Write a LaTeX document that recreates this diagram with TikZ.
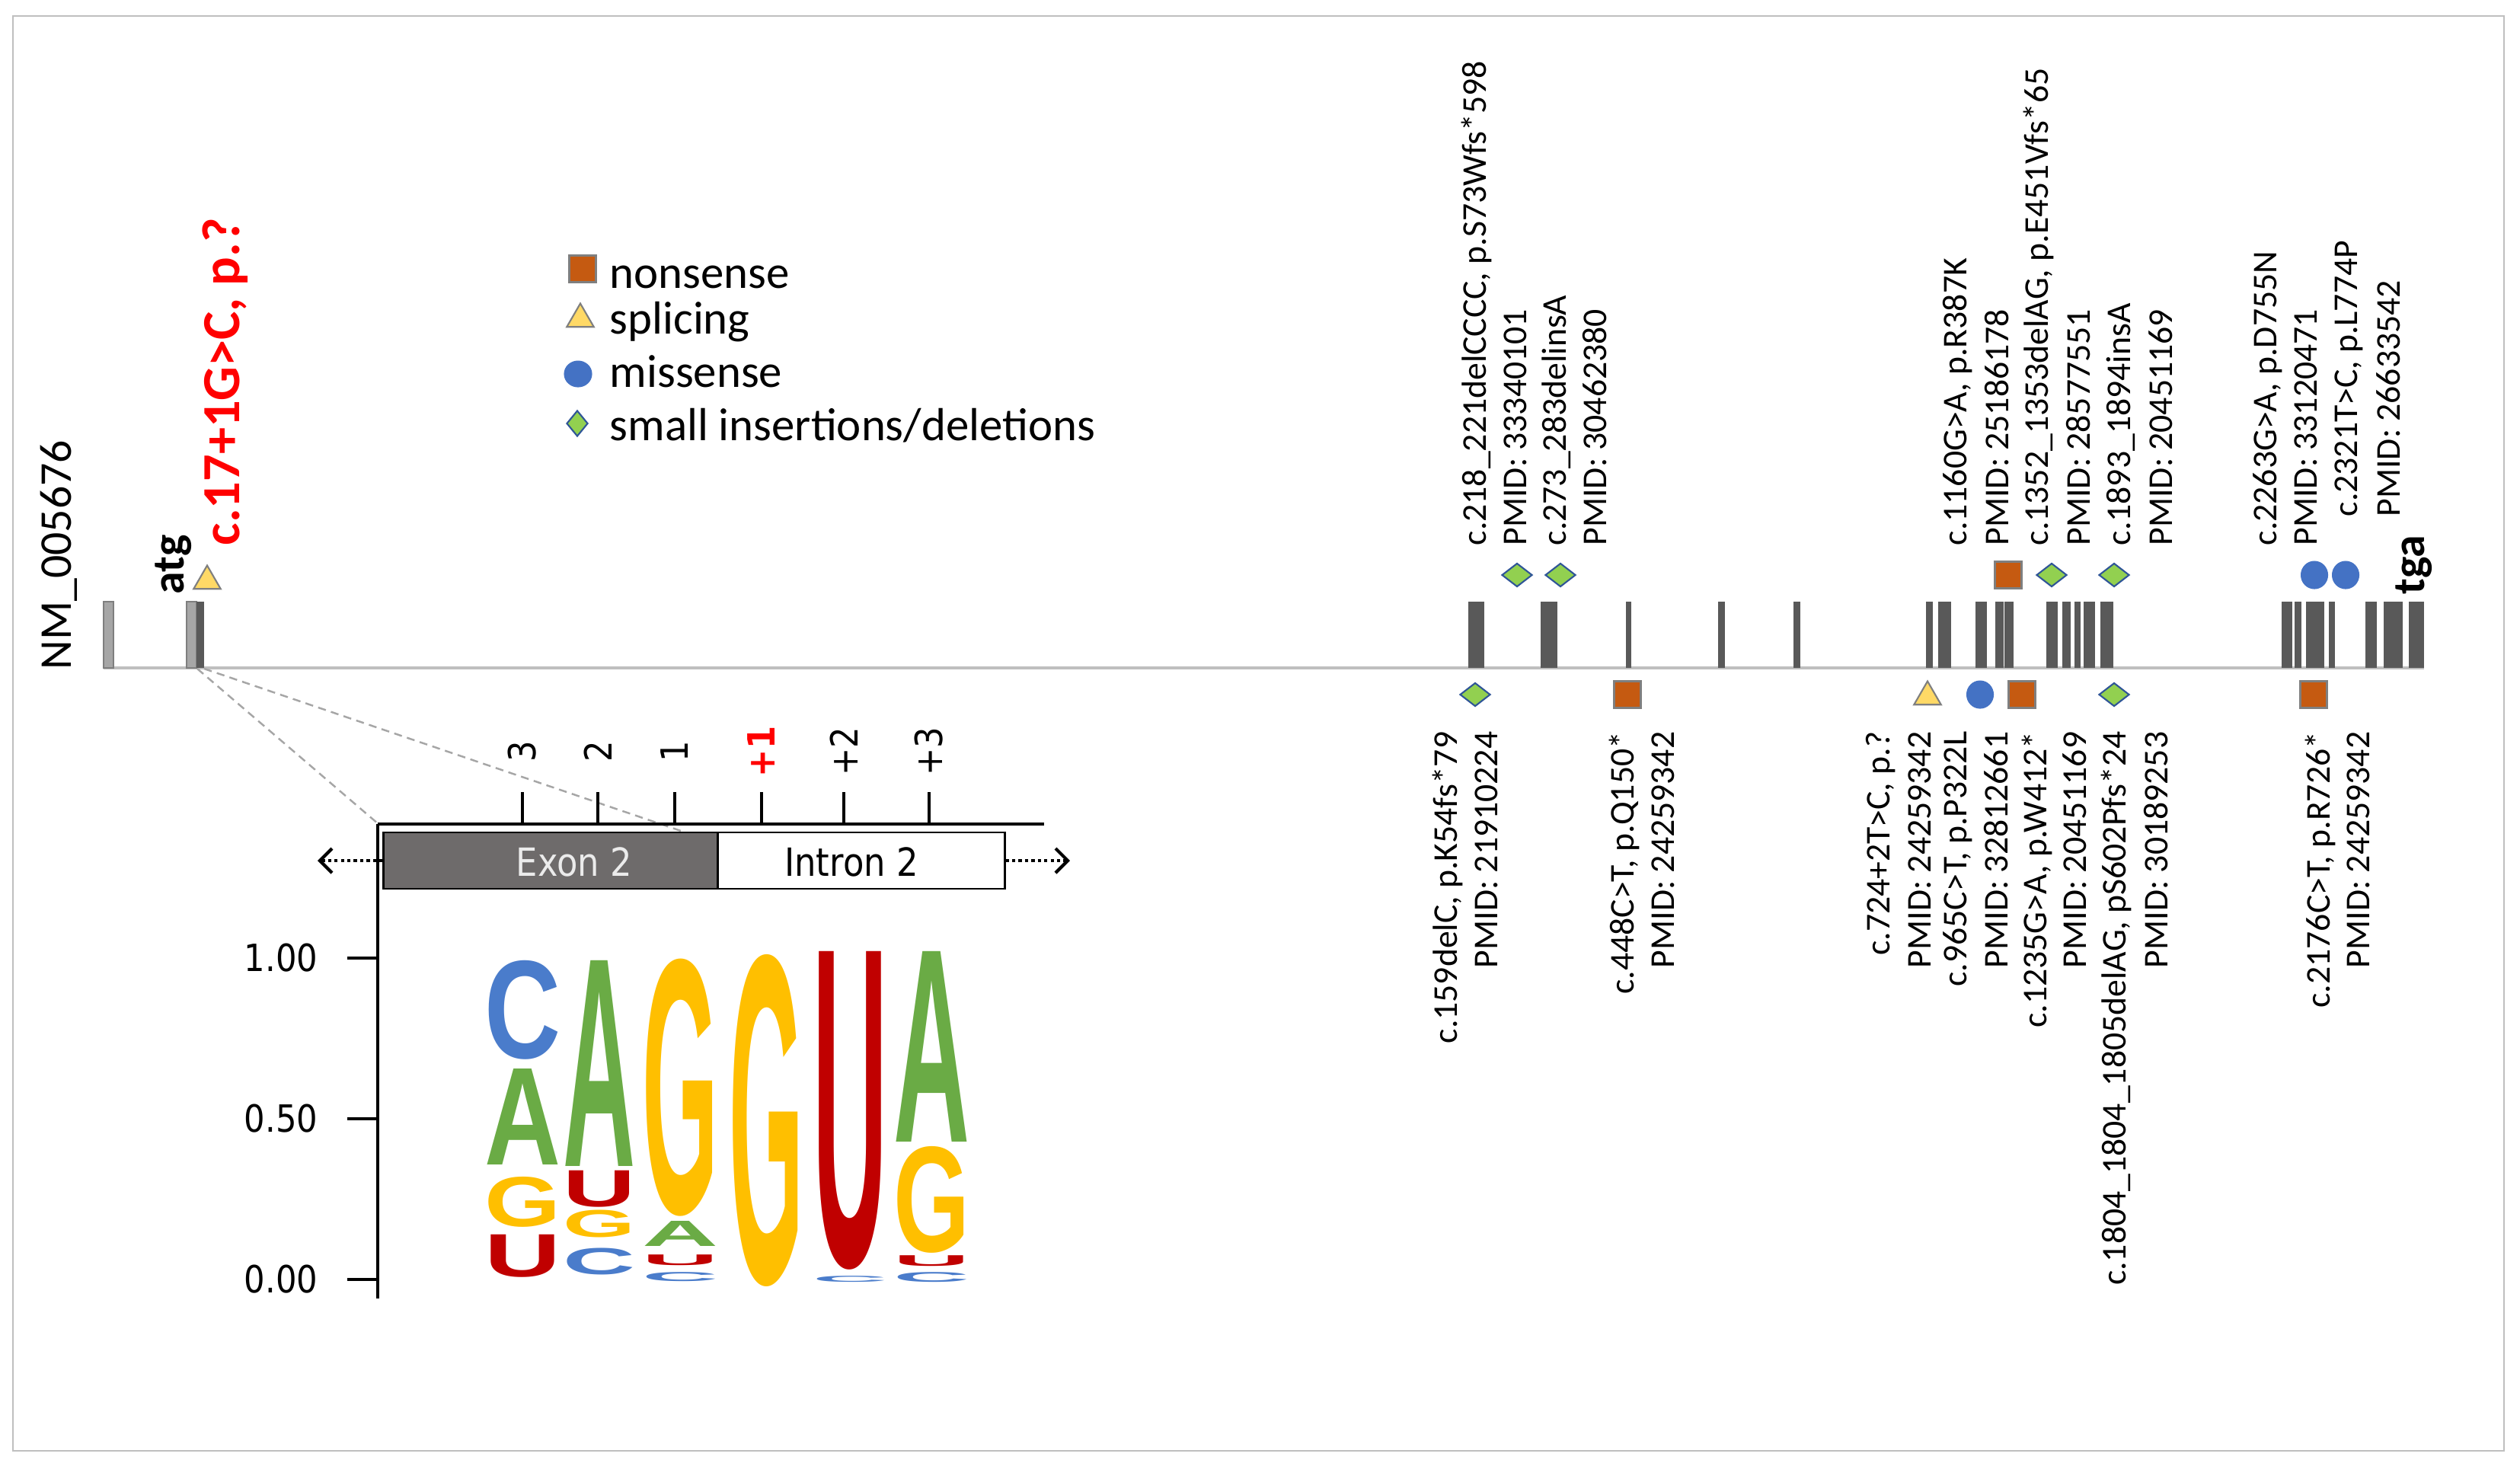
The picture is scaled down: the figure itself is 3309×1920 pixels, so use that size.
\documentclass[tikz,border=0pt]{standalone}
\usepackage{fontspec}
\usepackage{graphicx}
\setmainfont{Carlito}
\newfontfamily\logofont{Liberation Sans}
\newfontfamily\insetfont[FakeStretch=0.88]{DejaVu Sans}
\usetikzlibrary{shapes.geometric,arrows.meta}
\newlength\pxu \setlength\pxu{0.01cm}
\definecolor{exdark}{HTML}{595959}
\definecolor{exlight}{HTML}{A6A6A6}
\definecolor{linegray}{HTML}{BFBFBF}
\definecolor{nsorange}{HTML}{C55A11}
\definecolor{mkgray}{HTML}{7F7F7F}
\definecolor{spyellow}{HTML}{FFD966}
\definecolor{msblue}{HTML}{4472C4}
\definecolor{idgreen}{HTML}{92D050}
\definecolor{idblue}{HTML}{2F5597}
\definecolor{lgblue}{HTML}{4A7CCB}
\definecolor{lggreen}{HTML}{6AAB45}
\definecolor{lgyellow}{HTML}{FFBF00}
\definecolor{lgred}{HTML}{C00000}
\definecolor{boxgray}{HTML}{6E6B6B}
\definecolor{dashgray}{HTML}{A6A6A6}
\newcommand\LogoL[7]{\node[inner sep=0pt, anchor=south, text=#2] (#1) at (#3,#5) {\resizebox*{#4\pxu}{#6\pxu}{\logofont\bfseries #7}};}
\tikzset{
  lbl/.style={rotate=90, inner sep=0pt, font=\fontsize{13}{15}\selectfont},
  exon/.style={fill=exdark, draw=none},
  exonl/.style={fill=exlight, draw=mkgray, line width=0.4pt},
  msq/.style={rectangle, minimum width=0.35cm, minimum height=0.35cm, inner sep=0pt, fill=nsorange, draw=mkgray, line width=0.6pt},
  mtri/.style={regular polygon, regular polygon sides=3, minimum size=0.41cm, inner sep=0pt, fill=spyellow, draw=mkgray, line width=0.6pt},
  mcirc/.style={ellipse, minimum width=0.35cm, minimum height=0.36cm, inner sep=0pt, fill=msblue, draw=msblue, line width=0.3pt},
  mdia/.style={diamond, minimum width=0.40cm, minimum height=0.31cm, inner sep=0pt, fill=idgreen, draw=idblue, line width=0.6pt},
  leg/.style={anchor=base west, inner sep=0pt, font=\fontsize{17.3}{20}\selectfont},
  ticklbl/.style={rotate=90, inner sep=0pt, font=\insetfont\fontsize{14}{16}\selectfont},
  ylbl/.style={anchor=east, inner sep=0pt, font=\insetfont\fontsize{14}{16}\selectfont},
  dotarrow/.style={line width=1.1pt, dash pattern=on 1.2pt off 1.2pt, -{Straight Barb[length=1.6mm, width=3.2mm, line width=1.2pt]}},
}
\begin{document}
\begin{tikzpicture}[x=0.01cm, y=-0.01cm]
\useasboundingbox (0,0) rectangle (3309,1920);
\draw[linegray, line width=0.6pt] (17,21) rectangle (3288,1905);

% transcript line and exons
\draw[linegray, line width=0.9pt] (136,877) -- (3183,877);
\draw[exonl] (136,790) rectangle (149,877);
\draw[exonl] (245,790) rectangle (258,877);
\fill[exdark] (258,790) rectangle (268,877);
\foreach \a/\b in {1928/1949, 2023/2045, 2135/2142, 2256/2265, 2355/2364, 2529/2538, 2545/2562, 2594/2609, 2620/2631, 2632/2644, 2687/2702, 2708/2719, 2724/2732, 2736/2751, 2758/2775, 2996/3010, 3013/3022, 3028/3052, 3058/3066, 3106/3121, 3130/3155, 3163/3183}
  \fill[exdark] (\a,790) rectangle (\b,877);

% left labels
\node[rotate=90, anchor=base west, inner sep=0pt, font=\fontsize{17}{19}\selectfont] (nm) at (93,880) {NM\_005676};
\node[rotate=90, anchor=base west, inner sep=0pt, font=\bfseries\fontsize{17}{19}\selectfont] (atg) at (241,781) {atg};
\node[rotate=90, anchor=base west, inner sep=0pt, font=\bfseries\fontsize{17}{19}\selectfont] (tga) at (3183,781) {tga};
\node[rotate=90, anchor=base west, inner sep=0pt, text=red, font=\bfseries\fontsize{20}{22}\selectfont] (mut) at (314,717) {c.17+1G>C, p.?};
\node[mtri] (t0) at (272,763) {};

% legend
\node[msq] (lsq) at (765,353) {};
\node[mtri] (ltri) at (762,419) {};
\node[mcirc, minimum width=0.36cm, minimum height=0.34cm] (lcirc) at (759,491) {};
\node[mdia, minimum width=0.28cm, minimum height=0.34cm] (ldia) at (758,556) {};
\node[leg] (lt1) at (800,378) {nonsense};
\node[leg] (lt2) at (800,438) {splicing};
\node[leg] (lt3) at (800,508) {missense};
\node[leg] (lt4) at (800,578) {small insertions/deletions};

% markers above
\node[mdia] (u1) at (1992,755) {};
\node[mdia] (u2) at (2049,755) {};
\node[msq] (u3) at (2637,755) {};
\node[mdia] (u4) at (2694,755) {};
\node[mdia] (u5) at (2776,755) {};
\node[mcirc] (u6) at (3039,755) {};
\node[mcirc] (u7) at (3080,755) {};
% markers below
\node[mdia] (d1) at (1937,912) {};
\node[msq] (d2) at (2137,912) {};
\node[mtri] (d3) at (2531,915) {};
\node[mcirc] (d4) at (2600,912) {};
\node[msq] (d5) at (2655,912) {};
\node[mdia] (d6) at (2776,912) {};
\node[msq] (d7) at (3038,912) {};

% upper labels
\node[lbl, anchor=base west] (A1) at (1951,717) {c.218\_221delCCCC, p.S73Wfs*598};
\node[lbl, anchor=base west] (A2) at (2004,717) {PMID: 33340101};
\node[lbl, anchor=base west] (B1) at (2056,717) {c.273\_283delinsA};
\node[lbl, anchor=base west] (B2) at (2109,717) {PMID: 30462380};
\node[lbl, anchor=base west] (C1) at (2582,717) {c.1160G>A, p.R387K};
\node[lbl, anchor=base west] (C2) at (2637,717) {PMID: 25186178};
\node[lbl, anchor=base west] (D1) at (2689,717) {c.1352\_1353delAG, p.E451Vfs*65};
\node[lbl, anchor=base west] (D2) at (2744,717) {PMID: 28577551};
\node[lbl, anchor=base west] (E1) at (2797,717) {c.1893\_1894insA};
\node[lbl, anchor=base west] (E2) at (2852,717) {PMID: 20451169};
\node[lbl, anchor=base west] (F1) at (2989,717) {c.2263G>A, p.D755N};
\node[lbl, anchor=base west] (F2) at (3042,717) {PMID: 33120471};
\node[lbl, anchor=base west] (G1) at (3095,679) {c.2321T>C, p.L774P};
\node[lbl, anchor=base west] (G2) at (3151,679) {PMID: 26633542};

% lower labels
\node[lbl, anchor=base east] (a1) at (1913,960) {c.159delC, p.K54fs*79};
\node[lbl, anchor=base east] (a2) at (1966,960) {PMID: 21910224};
\node[lbl, anchor=base east] (b1) at (2145,960) {c.448C>T, p.Q150*};
\node[lbl, anchor=base east] (b2) at (2198,960) {PMID: 24259342};
\node[lbl, anchor=base east] (c1) at (2481,960) {c.724+2T>C, p.?};
\node[lbl, anchor=base east] (c2) at (2535,960) {PMID: 24259342};
\node[lbl, anchor=base east] (e1) at (2582,960) {c.965C>T, p.P322L};
\node[lbl, anchor=base east] (e2) at (2636,960) {PMID: 32812661};
\node[lbl, anchor=base east] (f1) at (2687,960) {c.1235G>A, p.W412*};
\node[lbl, anchor=base east] (f2) at (2739,960) {PMID: 20451169};
\node[lbl, anchor=base east] (h1) at (2791,960) {c.1804\_1804\_1805delAG, pS602Pfs*24};
\node[lbl, anchor=base east] (h2) at (2846,960) {PMID: 30189253};
\node[lbl, anchor=base east] (g1) at (3059,960) {c.2176C>T, p.R726*};
\node[lbl, anchor=base east] (g2) at (3111,960) {PMID: 24259342};

% zoom lines
\coordinate (z1) at (259,878);
\coordinate (z2) at (268,878);
\coordinate (z3) at (497,1082);
\coordinate (z4) at (897,1092);
\draw[dashgray, line width=0.7pt, dash pattern=on 3pt off 2pt] (z1) -- (z3);
\draw[dashgray, line width=0.7pt, dash pattern=on 3pt off 2pt] (z2) -- (z4);

% inset axis and ticks
\draw[line width=1.4pt] (496,1082) -- (1371,1082);
\foreach \x/\t [count=\i] in {686/3, 785/2, 886/1, 1108/+2, 1220/+3}{
  \draw[line width=0.9pt] (\x,1040) -- (\x,1082);
  \node[ticklbl] (tk\i) at (\x,987) {\t};
}
\draw[line width=0.9pt] (1000,1040) -- (1000,1082);
\node[ticklbl, text=red, font=\insetfont\bfseries\fontsize{14}{16}\selectfont] (tkp1) at (1000,987) {+1};

\node[rectangle, fill=boxgray, draw=black, line width=0.8pt, minimum width=4.39cm, minimum height=0.74cm, inner sep=0pt] (exbox) at (723.5,1130) {};
\node[rectangle, fill=white, draw=black, line width=0.8pt, minimum width=3.76cm, minimum height=0.74cm, inner sep=0pt] (inbox) at (1131,1130) {};
\node[inner sep=0pt, text=white!92!black, font=\insetfont\fontsize{14.5}{16}\selectfont] (extx) at (754,1132) {Exon 2};
\node[inner sep=0pt, font=\insetfont\fontsize{14.5}{16}\selectfont] (intx) at (1118,1132) {Intron 2};
\coordinate (arL) at (417,1130);
\coordinate (arR) at (1405,1130);
\draw[dotarrow] (exbox.west) -- (arL);
\draw[dotarrow] (inbox.east) -- (arR);

% y axis
\draw[line width=1.1pt] (496,1082) -- (496,1705);
\foreach \y/\t [count=\i] in {1258/1.00, 1469/0.50, 1680/0.00}{
  \draw[line width=1.1pt] (456,\y) -- (496,\y);
  \node[ylbl] (yl\i) at (418,\y) {\t};
}

% sequence logo
\LogoL{l11}{lgblue}{686}{100}{1392}{130}{C}
\LogoL{l12}{lggreen}{686}{100}{1530}{126}{A}
\LogoL{l13}{lgyellow}{686}{100}{1612}{66}{G}
\LogoL{l14}{lgred}{686}{100}{1678}{56}{U}
\LogoL{l21}{lggreen}{787}{95}{1532}{270}{A}
\LogoL{l22}{lgred}{787}{95}{1586}{48}{U}
\LogoL{l23}{lgyellow}{787}{95}{1626}{36}{G}
\LogoL{l24}{lgblue}{787}{95}{1675}{35}{C}
\LogoL{l31}{lgyellow}{893}{100}{1598}{338}{G}
\LogoL{l32}{lggreen}{893}{100}{1637}{33}{A}
\LogoL{l33}{lgred}{893}{100}{1662}{14}{U}
\LogoL{l34}{lgblue}{893}{100}{1683}{12}{C}
\LogoL{l41}{lgyellow}{1006}{98}{1690}{436}{G}
\LogoL{l51}{lgred}{1116}{98}{1668}{418}{U}
\LogoL{l52}{lgblue}{1116}{98}{1684}{8}{C}
\LogoL{l61}{lggreen}{1223}{100}{1500}{250}{A}
\LogoL{l62}{lgyellow}{1223}{100}{1646}{140}{G}
\LogoL{l63}{lgred}{1223}{100}{1663}{14}{U}
\LogoL{l64}{lgblue}{1223}{100}{1684}{13}{C}
\end{tikzpicture}
\end{document}
